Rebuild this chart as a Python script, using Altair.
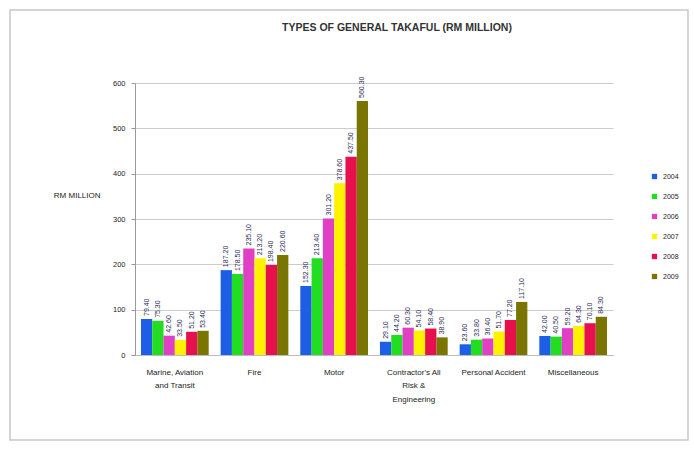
import altair as alt
import pandas as pd

title_text = "TYPES OF GENERAL TAKAFUL (RM MILLION)"
categories = ["Marine, Aviation|and Transit", "Fire", "Motor",
              "Contractor's All|Risk &|Engineering", "Personal Accident", "Miscellaneous"]
years = ["2004", "2005", "2006", "2007", "2008", "2009"]
v2004 = [79.4, 187.2, 152.3, 29.1, 23.6, 42.0]
v2005 = [75.3, 178.5, 213.4, 44.2, 33.8, 40.5]
v2006 = [42.6, 235.1, 301.2, 60.3, 36.4, 59.2]
v2007 = [33.5, 213.2, 378.6, 54.1, 51.7, 64.3]
v2008 = [51.2, 198.4, 437.5, 58.4, 77.2, 70.1]
v2009 = [53.4, 220.6, 560.3, 38.9, 117.1, 84.3]
colors = ["#1c5ee6", "#22dd22", "#e040c4", "#fff200", "#e8104c", "#7a7400"]

series = [v2004, v2005, v2006, v2007, v2008, v2009]
rows = []
for yr, vals in zip(years, series):
    for c, v in zip(categories, vals):
        rows.append({"category": c, "year": yr, "value": v})
df = pd.DataFrame(rows)

PL, PT, W, H = 135, 83, 478, 272
FONT = "Liberation Sans"

x = alt.X("category:N", sort=categories, title=None,
          scale=alt.Scale(paddingInner=0.15, paddingOuter=0.075),
          axis=alt.Axis(labelExpr="split(datum.label, '|')", labelAngle=0,
                        labelFontSize=8, labelColor="#222", labelPadding=13,
                        labelLineHeight=13.5, ticks=False, domainColor="#bbbbbb",
                        labelFont=FONT))
y = alt.Y("value:Q", scale=alt.Scale(domain=[0, 600]),
          axis=alt.Axis(values=[0, 100, 200, 300, 400, 500, 600], title="RM MILLION",
                        titleAngle=0, titleAlign="right", titleBaseline="middle",
                        titleX=-35, titleY=112, titleFontSize=8, titleFontWeight="normal",
                        titleColor="#222", titleFont=FONT,
                        labelFontSize=7.5, labelColor="#222", labelFont=FONT,
                        labelPadding=6, tickSize=4, tickColor="#999", domainColor="#999",
                        gridColor="#cccccc", gridWidth=1.2))

bars = alt.Chart(df).mark_bar().encode(
    x=x, y=y,
    xOffset=alt.XOffset("year:N", sort=years, scale=alt.Scale(paddingInner=0, paddingOuter=0)),
    color=alt.Color("year:N", sort=years, scale=alt.Scale(domain=years, range=colors),
                    legend=alt.Legend(title=None, orient="none", legendX=516, legendY=90,
                                      symbolType="square", symbolSize=28, symbolStrokeWidth=0,
                                      labelFontSize=7, labelFont=FONT, labelColor="#222",
                                      rowPadding=12, labelOffset=5)),
)

labels = alt.Chart(df).mark_text(angle=270, align="left", baseline="middle", dx=3,
                                 fontSize=7, font=FONT, color="#2a2a55").encode(
    x=alt.X("category:N", sort=categories),
    y="value:Q",
    xOffset=alt.XOffset("year:N", sort=years),
    text=alt.Text("value:Q", format=".2f"),
)

one = pd.DataFrame({"t": [title_text]})
frame = alt.Chart(one).mark_rect(fill="transparent", stroke="#c8c8c8", strokeWidth=1.5).encode(
    x=alt.value(10 - PL), x2=alt.value(688 - PL),
    y=alt.value(10 - PT), y2=alt.value(440 - PT))

title = alt.Chart(one).mark_text(fontSize=10.5, fontWeight="bold", color="#333", font=FONT,
                                 align="center", baseline="middle").encode(
    text="t:N", x=alt.value(397 - PL), y=alt.value(28 - PT))

chart = alt.layer(frame, title, bars, labels).properties(
    width=W, height=H,
    autosize=alt.AutoSizeParams(type="none"),
    padding={"left": PL, "top": PT, "right": 694 - PL - W, "bottom": 450 - PT - H},
    background="white",
).configure_view(stroke=None)

chart.save("out.html", embed_options={"renderer": "svg", "actions": False})
